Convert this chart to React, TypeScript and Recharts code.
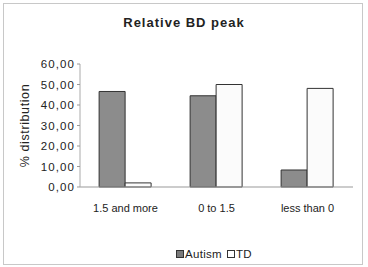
import React from "react";
import { BarChart, Bar, XAxis, YAxis, Legend, Label } from "recharts";

const categories = ["1.5 and more", "0 to 1.5", "less than 0"];
const autismValues = [46.6, 44.5, 8.3];
const tdValues = [2.0, 50.0, 48.1];
const yTicks = [0, 10, 20, 30, 40, 50, 60];

const data = categories.map((name, i) => ({
  name,
  Autism: autismValues[i],
  TD: tdValues[i],
}));

const font = "'Liberation Sans', Arial, sans-serif";
const autismFill = "#8c8c8c";
const tdFill = "#fbfbfb";

const fmt = (v: number) => v.toFixed(2).replace(".", ",");

const LegendBox = () => (
  <div
    style={{
      display: "flex",
      alignItems: "center",
      justifyContent: "center",
      fontSize: 11.5,
      fontFamily: font,
      color: "#222",
      letterSpacing: 0.3,
    }}
  >
    <span
      style={{
        display: "inline-block",
        width: 6,
        height: 6,
        background: "#7a7a7a",
        border: "1px solid #333",
        marginRight: 1,
      }}
    />
    <span>Autism</span>
    <span
      style={{
        display: "inline-block",
        width: 6,
        height: 6,
        background: "#fff",
        border: "1px solid #333",
        marginLeft: 5,
        marginRight: 1,
      }}
    />
    <span>TD</span>
  </div>
);

export default function App() {
  return (
    <div
      style={{
        position: "absolute",
        left: 0,
        top: 0,
        width: 368,
        height: 267,
        background: "#fff",
        fontFamily: font,
      }}
    >
      <div
        style={{
          position: "absolute",
          left: 3,
          top: 3,
          width: 358,
          height: 260,
          border: "1px solid #c8c8c8",
        }}
      />
      <div
        style={{
          position: "absolute",
          left: 0,
          width: 368,
          top: 15,
          textAlign: "center",
          fontSize: 13,
          fontWeight: "bold",
          letterSpacing: 1,
          color: "#222",
        }}
      >
        Relative BD peak
      </div>
      <BarChart
        width={368}
        height={267}
        data={data}
        margin={{ top: 64, right: 15, bottom: 38, left: 20 }}
        barCategoryGap="21%"
        barGap={0}
        style={{ position: "absolute", left: 0, top: 0 }}
      >
        <XAxis
          dataKey="name"
          tickLine={false}
          axisLine={{ stroke: "#999" }}
          tick={{ fontSize: 11, fill: "#222", fontFamily: font }}
          tickMargin={11}
          height={30}
        />
        <YAxis
          domain={[0, 60]}
          ticks={yTicks}
          tickFormatter={fmt}
          width={60}
          axisLine={{ stroke: "#aaa" }}
          tickLine={{ stroke: "#999" }}
          tickSize={3}
          tick={{ fontSize: 11.5, fill: "#222", fontFamily: font, letterSpacing: 1.1 }}
        >
          <Label
            value="% distribution"
            angle={-90}
            position="insideLeft"
            offset={5}
            style={{ fontSize: 12.5, fill: "#222", fontFamily: font, textAnchor: "middle", letterSpacing: 0.6 }}
          />
        </YAxis>
        <Legend
          verticalAlign="bottom"
          align="center"
          content={<LegendBox />}
          wrapperStyle={{ left: 60, width: 308, bottom: 7 }}
        />
        <Bar dataKey="Autism" fill={autismFill} stroke="#333" strokeWidth={1} isAnimationActive={false} />
        <Bar dataKey="TD" fill={tdFill} stroke="#333" strokeWidth={1} isAnimationActive={false} />
      </BarChart>
    </div>
  );
}
